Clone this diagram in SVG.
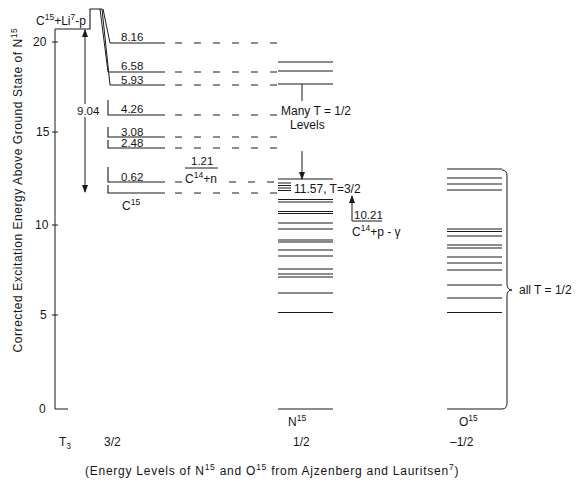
<svg xmlns="http://www.w3.org/2000/svg" width="577" height="484" viewBox="0 0 577 484">
<style>
  text { font-family: "Liberation Sans", Arial, sans-serif; fill: #151515; }
  .lbl { font-size: 11.5px; }
  .big { font-size: 12px; }
  .sup { font-size: 8.5px; }
  .lv { stroke: #1a1a1a; stroke-width: 1.1; fill: none; }
  .dash { stroke: #1a1a1a; stroke-width: 1; stroke-dasharray: 7 12; fill: none; }
  .ln { stroke: #1a1a1a; stroke-width: 1; fill: none; }
</style>
<defs>
  <marker id="ah" viewBox="0 0 8 6" refX="7" refY="3" markerWidth="8" markerHeight="6" markerUnits="userSpaceOnUse" orient="auto-start-reverse">
    <path d="M0,0 L8,3 L0,6 z" fill="#1a1a1a"/>
  </marker>
</defs>
<rect width="577" height="484" fill="#ffffff"/>

<g id="axis">
  <path class="ln" d="M55,29 V409 H68"/>
  <path class="ln" d="M52,42 H58 M52,132 H58 M52,225 H58 M52,315 H58"/>
  <text class="big" x="33" y="46">20</text>
  <text class="big" x="36" y="136">15</text>
  <text class="big" x="35" y="229">10</text>
  <text class="big" x="40" y="319">5</text>
  <text class="big" x="39" y="413">0</text>
  <text class="big" transform="translate(22,190) rotate(-90)" text-anchor="middle" letter-spacing="0.55">Corrected Excitation Energy Above Ground State of N<tspan class="sup" dy="-5">15</tspan></text>
</g>

<g id="C15Li7p">
  <path class="lv" d="M55,29 H90 V9 H102"/>
  <text class="big" x="36" y="25">C<tspan class="sup" dy="-5">15</tspan><tspan dy="5">+Li</tspan><tspan class="sup" dy="-5">7</tspan><tspan dy="5">-p</tspan></text>
</g>

<g id="C15-levels">
  <path class="lv" d="M110,43 H165 M108,72 H165 M110,85 H165"/>
  <path class="lv" d="M108,100 V115 H165 M108,127 V137 H165 M108,140 V148 H165 M108,167 V182 H165 M108,185 V193 H165"/>
  <text class="lbl" x="121" y="41">8.16</text>
  <text class="lbl" x="121" y="70">6.58</text>
  <text class="lbl" x="121" y="84">5.93</text>
  <text class="lbl" x="121" y="113">4.26</text>
  <text class="lbl" x="121" y="136">3.08</text>
  <text class="lbl" x="121" y="147">2.48</text>
  <text class="lbl" x="121" y="181">0.62</text>
  <text class="big" x="122" y="210">C<tspan class="sup" dy="-5">15</tspan></text>
</g>

<g id="C14n">
  <path class="ln" d="M185,168 H218"/>
  <text class="lbl" x="191" y="165">1.21</text>
  <text class="big" x="185" y="183">C<tspan class="sup" dy="-5">14</tspan><tspan dy="5">+n</tspan></text>
</g>

<g id="N15-levels">
  <path class="lv" d="M278,62 H333 M278,71 H333 M278,84 H333 M278,179 H333 M278,183 H291 M278,185.5 H291 M278,188 H291 M278,190.5 H291 M278,199.5 H333 M278,202 H333 M278,211.5 H333 M278,213.5 H333 M278,223 H333 M278,229 H333 M278,240 H333 M278,242 H333 M278,250 H333 M278,256 H333 M278,269 H333 M278,274 H333 M278,277 H333 M278,293 H333 M278,312.5 H333 M278,409 H333"/>
  <text class="big" x="281" y="115">Many T = 1/2</text>
  <text class="big" x="290" y="129">Levels</text>
  <text class="big" x="294" y="193">11.57, T=3/2</text>
  <text class="big" x="288" y="426">N<tspan class="sup" dy="-5">15</tspan></text>
</g>

<g id="C14p">
  <path class="ln" d="M352,221 H382"/>
  <text class="lbl" x="354" y="219">10.21</text>
  <text class="big" x="352" y="236">C<tspan class="sup" dy="-5">14</tspan><tspan dy="5">+p - γ</tspan></text>
</g>

<g id="O15-levels">
  <path class="lv" d="M447,169 H502 M447,178 H502 M447,184 H502 M447,190 H502 M447,229 H502 M447,231.5 H502 M447,236 H502 M447,245 H502 M447,248 H502 M447,257 H502 M447,263 H502 M447,270 H502 M447,285 H502 M447,298 H502 M447,312.5 H502 M447,409 H502"/>
  <path class="ln" d="M502,170 Q507,170 507,176 L507,284 Q507,290 512,290 Q507,290 507,296 L507,403 Q507,409 502,409"/>
  <text class="big" x="519" y="294">all T = 1/2</text>
  <text class="big" x="459" y="426">O<tspan class="sup" dy="-5">15</tspan></text>
</g>

<g id="connectors">
  <path class="dash" d="M175,43 H277 M175,72 H277 M175,85 H277 M175,115 H277 M175,137 H277 M175,148 H277 M175,193 H277"/>
  <path class="dash" d="M175,182 H182 M229,182 H277"/>
  <path class="ln" d="M103,9 L110,43 M100,9 L108,72 M102,9 L110,85"/>
  <path class="ln" d="M85,30 V104" marker-start="url(#ah)"/>
  <path class="ln" d="M85,117 V192" marker-end="url(#ah)"/>
  <path class="ln" d="M302,84 V101"/>
  <path class="ln" d="M302,151 V179" marker-end="url(#ah)"/>
  <path class="ln" d="M352,221 V196" marker-end="url(#ah)"/>
  <text class="lbl" x="77" y="115">9.04</text>
</g>

<g id="footer">
  <text class="big" x="59" y="446">T<tspan class="sup" dy="3">3</tspan></text>
  <text class="big" x="104" y="446">3/2</text>
  <text class="big" x="293" y="446">1/2</text>
  <text class="big" x="450" y="446">–1/2</text>
  <text class="big" x="85" y="475" font-size="12.5" letter-spacing="0.75">(Energy Levels of N<tspan class="sup" dy="-5">15</tspan><tspan dy="5"> and O</tspan><tspan class="sup" dy="-5">15</tspan><tspan dy="5"> from Ajzenberg and Lauritsen</tspan><tspan class="sup" dy="-5">7</tspan><tspan dy="5">)</tspan></text>
</g>
</svg>
